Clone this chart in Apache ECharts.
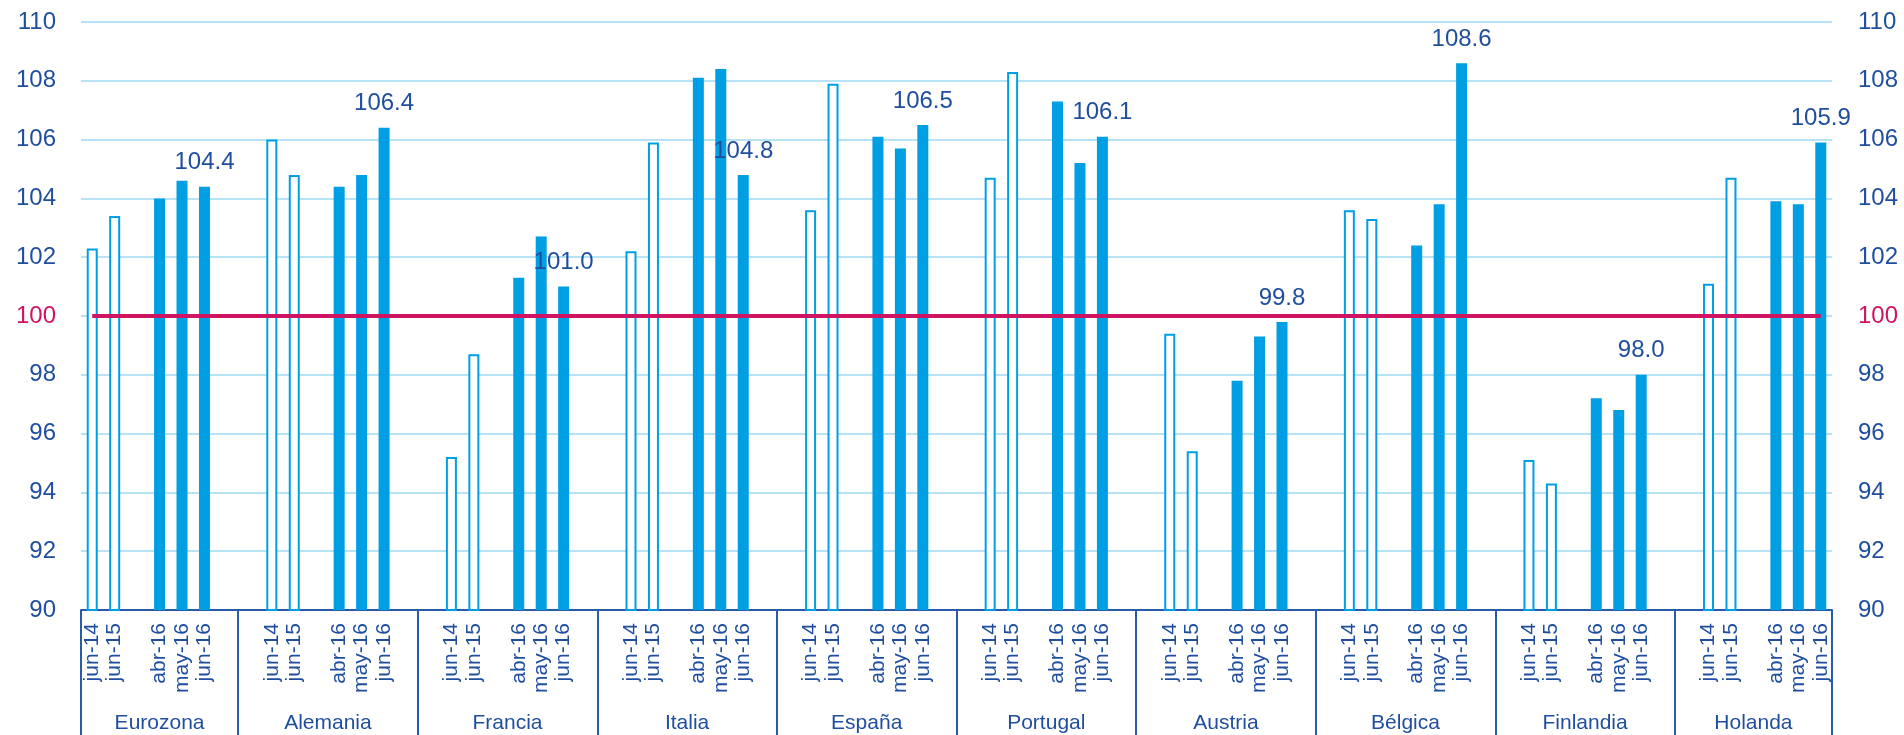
<!DOCTYPE html>
<html>
<head>
<meta charset="utf-8">
<style>
  html, body { margin: 0; padding: 0; background: #ffffff; }
  #chart { width: 1904px; height: 735px; }
</style>
<script src="https://cdn.jsdelivr.net/npm/echarts@6/dist/echarts.min.js"></script>
</head>
<body>
<div id="chart"></div>
<script>
// Index values by country (base = 100)
const countries = ['Eurozona', 'Alemania', 'Francia', 'Italia', 'España', 'Portugal', 'Austria', 'Bélgica', 'Finlandia', 'Holanda'];
const jun14 = [102.3, 106.0, 95.2, 102.2, 103.6, 104.7, 99.4, 103.6, 95.1, 101.1];
const jun15 = [103.4, 104.8, 98.7, 105.9, 107.9, 108.3, 95.4, 103.3, 94.3, 104.7];
const abr16 = [104.0, 104.4, 101.3, 108.1, 106.1, 107.3, 97.8, 102.4, 97.2, 103.9];
const may16 = [104.6, 104.8, 102.7, 108.4, 105.7, 105.2, 99.3, 103.8, 96.8, 103.8];
const jun16 = [104.4, 106.4, 101.0, 104.8, 106.5, 106.1, 99.8, 108.6, 98.0, 105.9];
const periodLabels = ['jun-14', 'jun-15', 'abr-16', 'may-16', 'jun-16'];
const baseLevel = 100;
const yTicks = { min: 90, max: 110, step: 2 };

const BLUE = '#009FE3';
const TEXT = '#1F4E9F';
const CRIMSON = '#CF1461';
const FONT = '"Liberation Sans", Arial, sans-serif';

const valuesByPeriod = {};
[jun14, jun15, abr16, may16, jun16].forEach((arr, i) => { valuesByPeriod[periodLabels[i]] = arr; });

// Each country gets: jun-14, jun-15, gap, abr-16, may-16, jun-16, with spacer slots between countries
const slotPattern = [periodLabels[0], periodLabels[1], '', periodLabels[2], periodLabels[3], periodLabels[4]];
const categories = [];
const histData = [], recentData = [], latestData = [], baseLine = [];
const groupStarts = [], groupCenters = [];

countries.forEach((name, g) => {
  const layout = (g > 0 ? [''] : []).concat(slotPattern, g < countries.length - 1 ? [''] : []);
  const start = categories.length;
  groupStarts.push(start);
  groupCenters.push([start - 0.5 + layout.length / 2]);
  layout.forEach((p, k) => {
    categories.push(name + '|' + k + '|' + p);
    const v = p ? valuesByPeriod[p][g] : null;
    histData.push(p === periodLabels[0] || p === periodLabels[1] ? v : null);
    recentData.push(p === periodLabels[2] || p === periodLabels[3] ? v : null);
    latestData.push(p === periodLabels[4] ? v : null);
    baseLine.push(baseLevel);
  });
});

const chart = echarts.init(document.getElementById('chart'), null, { renderer: 'canvas' });

const yLabelColor = (v) => (Number(v) === baseLevel ? CRIMSON : TEXT);

chart.setOption({
  animation: false,
  backgroundColor: '#ffffff',
  grid: { left: 81, right: 72, top: 22, bottom: 125, containLabel: false },
  xAxis: [
    {
      type: 'category',
      data: categories,
      boundaryGap: true,
      axisLine: { show: true, lineStyle: { color: '#2A5BA8', width: 2 } },
      axisTick: {
        show: true,
        length: 140,
        interval: (index) => groupStarts.includes(index),
        lineStyle: { color: '#2A5BA8', width: 2 }
      },
      axisLabel: {
        interval: 0,
        rotate: 90,
        margin: 13,
        color: TEXT,
        fontSize: 21,
        fontFamily: FONT,
        formatter: (v) => v.split('|')[2]
      },
      splitLine: { show: false }
    },
    {
      type: 'value',
      show: false,
      min: -0.5,
      max: categories.length - 0.5
    }
  ],
  yAxis: [
    {
      type: 'value',
      position: 'left',
      min: yTicks.min, max: yTicks.max, interval: yTicks.step,
      axisLine: { show: false },
      axisTick: { show: false },
      axisLabel: { margin: 25, fontSize: 24, fontFamily: FONT, color: yLabelColor },
      splitLine: { show: true, lineStyle: { color: '#B8E3F6', width: 2 } }
    },
    {
      type: 'value',
      position: 'right',
      min: yTicks.min, max: yTicks.max, interval: yTicks.step,
      axisLine: { show: false },
      axisTick: { show: false },
      axisLabel: { margin: 26, fontSize: 24, fontFamily: FONT, color: yLabelColor },
      splitLine: { show: false }
    }
  ],
  series: [
    {
      name: 'jun-14 / jun-15',
      type: 'bar',
      data: histData,
      barWidth: 11,
      barGap: '-100%',
      itemStyle: { color: '#ffffff', borderColor: BLUE, borderWidth: 2 },
      z: 2
    },
    {
      name: 'abr-16 / may-16',
      type: 'bar',
      data: recentData,
      barWidth: 11,
      barGap: '-100%',
      itemStyle: { color: BLUE },
      z: 2
    },
    {
      name: 'jun-16',
      type: 'bar',
      data: latestData,
      barWidth: 11,
      barGap: '-100%',
      itemStyle: { color: BLUE },
      label: {
        show: true,
        position: 'top',
        distance: 12,
        color: TEXT,
        fontSize: 24,
        fontFamily: FONT,
        formatter: (p) => Number(p.value).toFixed(1)
      },
      z: 2
    },
    {
      name: 'Base 100',
      type: 'line',
      data: baseLine,
      symbol: 'none',
      lineStyle: { color: CRIMSON, width: 4 },
      z: 4,
      silent: true
    },
    {
      name: 'Países',
      type: 'custom',
      xAxisIndex: 1,
      yAxisIndex: 0,
      data: groupCenters,
      silent: true,
      renderItem: (params, api) => {
        const p = api.coord([api.value(0), yTicks.min]);
        return {
          type: 'text',
          x: p[0],
          y: p[1] + 113,
          style: {
            text: countries[params.dataIndex],
            fill: TEXT,
            fontSize: 21,
            fontFamily: FONT,
            align: 'center',
            verticalAlign: 'middle'
          }
        };
      }
    }
  ]
});
</script>
</body>
</html>
